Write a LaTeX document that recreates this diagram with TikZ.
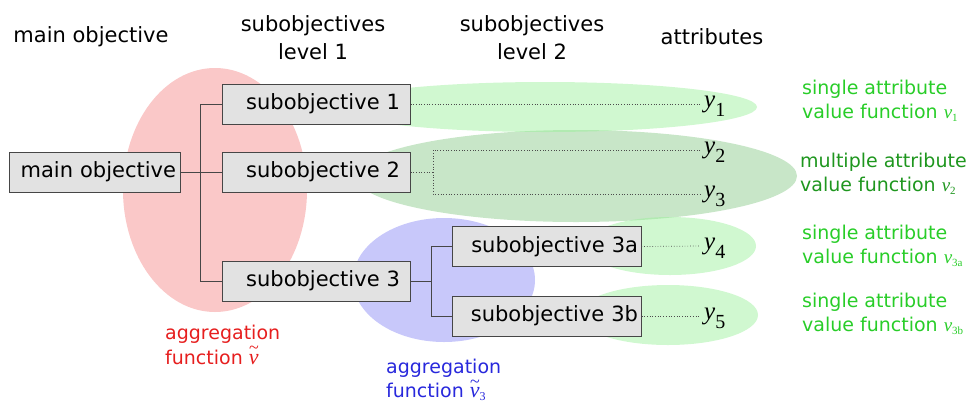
\documentclass[tikz,border=0pt]{standalone}
\usepackage{fontspec}
\setmainfont{DejaVu Sans}
\newfontfamily\seriffam{Liberation Serif}
\definecolor{boxfill}{RGB}{226,226,226}
\definecolor{boxline}{RGB}{70,70,70}
\definecolor{pinkfill}{RGB}{250,200,200}
\definecolor{bluefill}{RGB}{200,200,250}
\definecolor{greenA}{RGB}{150,240,150}
\definecolor{greenB}{RGB}{200,230,200}
\definecolor{labgreen}{RGB}{40,205,40}
\definecolor{labdkgreen}{RGB}{30,150,30}
\definecolor{labred}{RGB}{230,30,30}
\definecolor{labblue}{RGB}{40,40,220}
\newcommand\yvar[1]{{\seriffam\fontsize{25}{25}\selectfont\itshape y}\raisebox{-9pt}[0pt][0pt]{\seriffam\fontsize{20}{20}\selectfont #1}}
\newcommand\vfun[1]{{\seriffam\itshape v}\raisebox{-3pt}{\seriffam\fontsize{11}{11}\selectfont #1}}
\newcommand\tv{{\seriffam\itshape\fontsize{22}{22}\selectfont\ooalign{v\cr\hidewidth\raisebox{1.05ex}{\fontsize{18}{18}\selectfont\textasciitilde}\hidewidth\cr}}}
\tikzset{
  box/.style={draw=boxline, fill=boxfill, line width=1pt, minimum height=40pt,
    inner ysep=0pt, align=right, font=\fontsize{21}{25}\selectfont},
  head/.style={align=center, font=\fontsize{21}{28}\selectfont, inner sep=0pt},
  lab/.style={align=left, anchor=west, font=\fontsize{19}{24.5}\selectfont, inner sep=0pt},
  tree/.style={draw=boxline, line width=1pt},
  dots/.style={draw=black!70, dotted, line width=0.7pt},
  yl/.style={anchor=west, inner sep=0pt},
}
\begin{document}
\begin{tikzpicture}[x=1pt,y=-1pt]
\useasboundingbox (0,0) rectangle (971,400);
% blobs
\fill[pinkfill] (215,190) ellipse [x radius=92, y radius=122];
\fill[bluefill] (444,280) ellipse [x radius=91, y radius=62];
\fill[greenB] (576,176) ellipse [x radius=221, y radius=46];
\fill[greenA, fill opacity=0.45] (545,107) ellipse [x radius=212, y radius=25];
\fill[greenA, fill opacity=0.45] (670,246) ellipse [x radius=86, y radius=29];
\fill[greenA, fill opacity=0.45] (668,315) ellipse [x radius=90, y radius=30];
% headers
\node[head] (h0) at (91,37) {main objective};
\node[head] (h1) at (313,38) {subobjectives\\level 1};
\node[head] (h2) at (532,38) {subobjectives\\level 2};
\node[head] (h3) at (712,37) {attributes};
% boxes
\node[box, inner xsep=4pt, text width=163pt] (main) at (94.5,172) {main objective};
\node[box, inner xsep=10pt, text width=168pt] (s1) at (316,104) {subobjective 1};
\node[box, inner xsep=10pt, text width=168pt] (s2) at (316,172) {subobjective 2};
\node[box, inner xsep=10pt, text width=168pt] (s3) at (316,281) {subobjective 3};
\node[box, inner xsep=3pt, text width=183pt] (s3a) at (546.5,246.5) {subobjective 3a};
\node[box, inner xsep=3pt, text width=183pt] (s3b) at (546.5,316) {subobjective 3b};
% attributes
\node[yl] (y1) at (704,104) {\yvar{1}};
\node[yl] (y2) at (704,150) {\yvar{2}};
\node[yl] (y3) at (704,194) {\yvar{3}};
\node[yl] (y4) at (704,246) {\yvar{4}};
\node[yl] (y5) at (704,316) {\yvar{5}};
% tree connectors
\coordinate (j1) at (200,172);
\coordinate (j3) at (431,281);
\coordinate (j2) at (433,172);
\draw[tree] (main.east) -- (s2.west);
\draw[tree] (s1.west) -- (s1.west -| j1) -- (s3.west -| j1) -- (s3.west);
\draw[tree] (s3.east) -- (j3);
\draw[tree] (s3a.west) -- (s3a.west -| j3) -- (s3b.west -| j3) -- (s3b.west);
% dotted
\draw[dots] (s1.east) -- ([xshift=-4pt]y1.west);
\draw[dots] (s2.east) -- (j2);
\draw[dots] ([xshift=-4pt]y2.west) -- (y2.west -| j2) -- (y3.west -| j2) -- ([xshift=-4pt]y3.west);
\draw[dots] (s3a.east) -- ([xshift=-4pt]y4.west);
\draw[dots] (s3b.east) -- ([xshift=-4pt]y5.west);
% right labels
\node[lab, text=labgreen] (l1) at (802,101) {single attribute\\value function \vfun{1}};
\node[lab, text=labdkgreen] (l2) at (800,174) {multiple attribute\\value function \vfun{2}};
\node[lab, text=labgreen] (l3) at (802,246) {single attribute\\value function \vfun{3a}};
\node[lab, text=labgreen] (l4) at (802,314) {single attribute\\value function \vfun{3b}};
% aggregation labels
\node[lab, text=labred] (ag1) at (165,345) {aggregation\\function \tv};
\node[lab, text=labblue] (ag2) at (386,380) {aggregation\\function \tv\raisebox{-3pt}{\seriffam\fontsize{12}{12}\selectfont 3}};
\end{tikzpicture}
\end{document}
